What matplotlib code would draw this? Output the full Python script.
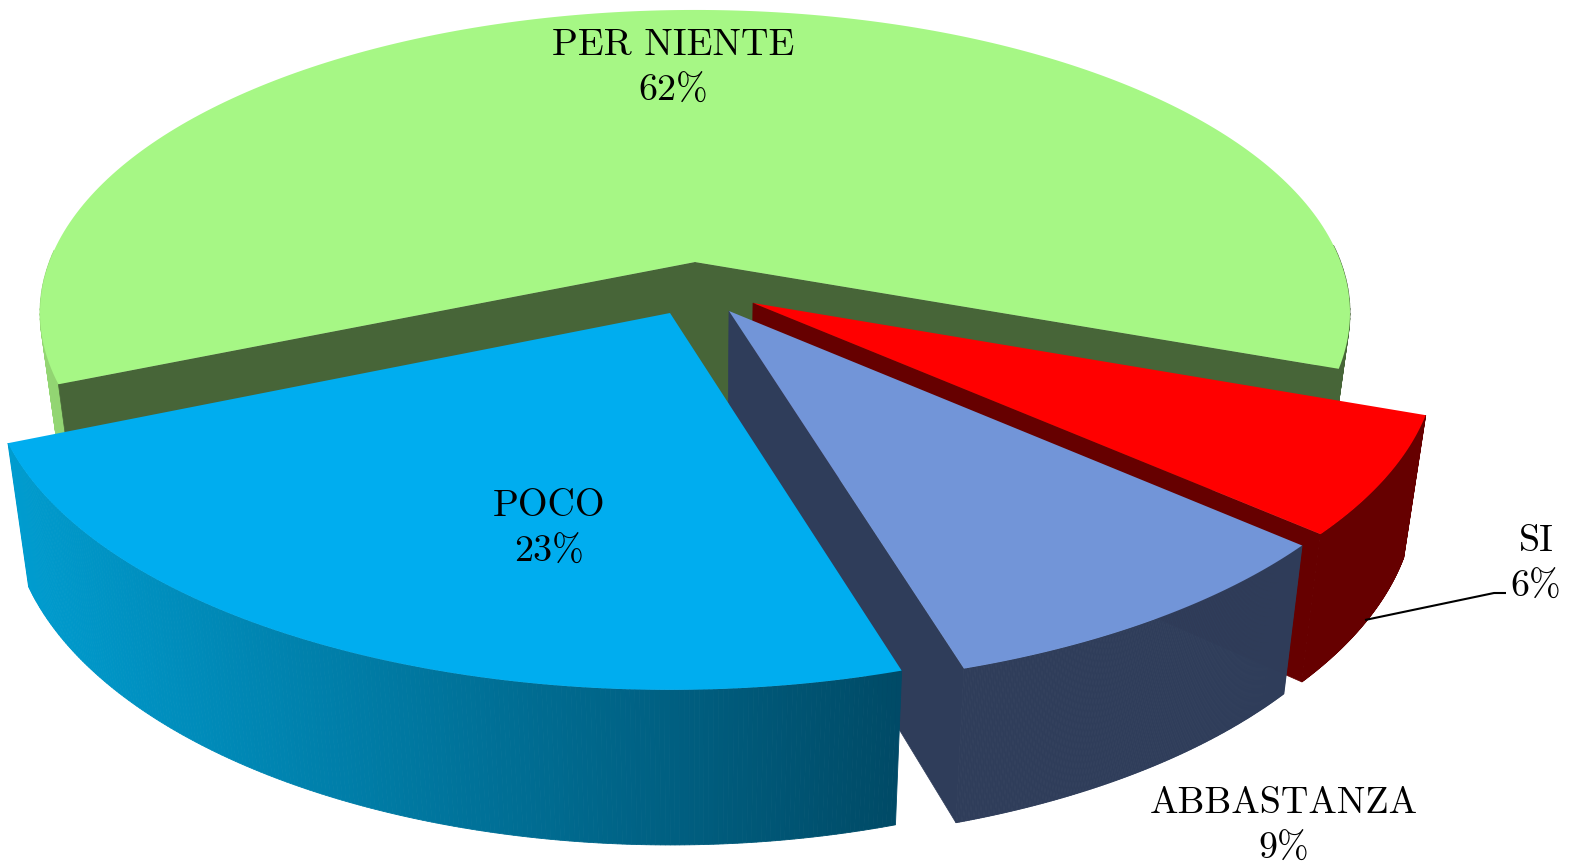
import numpy as np
import matplotlib
matplotlib.use('Agg')
import matplotlib.pyplot as plt
from matplotlib.colors import to_rgb

# dati
labels = ['PER NIENTE', 'POCO', 'ABBASTANZA', 'SI']
values = [61.9, 23.33, 8.76, 6.01]
percent_labels = ['62%', '23%', '9%', '6%']

top_colors = ['#a6f785', '#00adef', '#7295d8', '#ff0000']
side_left = ['#93d673', '#009ccf', '#2f3d5a', '#660000']
side_right = ['#476538', '#004a66', '#2f3d5a', '#660000']
wall_colors = ['#476538', '#004a66', '#2f3d5a', '#660000']

# posizione del vertice di ogni fetta (pixel) e scala prospettica
apex_x = [695, 670, 729, 753]
apex_y = [262, 313, 311, 303]
scale_x = [1.0, 1.04, 1.055, 1.045]
scale_y = [1.0, 1.065, 1.065, 1.05]
label_x = [673, 549, 1284, 1536]
label_y = [45, 506, 803, 541]

start_angle = -20.0
K = 0.168
A = 645.7
B = 294.4
VX = 695


def rim(x0, y0, ang, sx, sy):
    # prospettiva del cerchio
    a = np.radians(ang)
    w = 1 + K * np.sin(a)
    return x0 + sx * A * np.cos(a) / w, y0 - sy * B * np.sin(a) / w


def lower(x, y):
    # faccia inferiore del disco
    return VX + 0.97 * (x - VX), y + 135 + 0.047 * (y - 262)


fig = plt.figure(figsize=(15.70, 8.65), dpi=100)
ax = fig.add_axes([0, 0, 1, 1])
ax.set_xlim(0, 1570)
ax.set_ylim(865, 0)
ax.axis('off')

angles = start_angle + np.concatenate([[0], np.cumsum(values)]) * 3.6

# ordine di disegno: verde, rosso, lilla, blu
for i in [0, 3, 2, 1]:
    x0, y0 = apex_x[i], apex_y[i]
    t = np.linspace(angles[i], angles[i + 1], 240)
    xr, yr = rim(x0, y0, t, scale_x[i], scale_y[i])
    xb, yb = lower(xr, yr)
    x0b, y0b = lower(x0, y0)

    # fianco con sfumatura
    c0 = np.array(to_rgb(side_left[i]))
    c1 = np.array(to_rgb(side_right[i]))
    xmin, xmax = xr.min(), xr.max()
    if i == 1:
        xmax = xr[-1]
    for j in range(len(t) - 1):
        if np.sin(np.radians(t[j])) > 0.05 and i == 0:
            continue
        f = np.clip((xr[j] - xmin) / (xmax - xmin), 0, 1)
        col = c0 + (c1 - c0) * f
        ax.fill([xr[j], xr[j + 1], xb[j + 1], xb[j]], [yr[j], yr[j + 1], yb[j + 1], yb[j]],
                color=col, lw=0.6)

    # pareti interne
    if i == 0:
        for k in [0, -1]:
            ax.fill([x0, xr[k], xb[k], x0b], [y0, yr[k], yb[k], y0b], color=wall_colors[i], lw=0.5)
    if i in (2, 3):
        ax.fill([x0, xr[0], xb[0], x0b], [y0, yr[0], yb[0], y0b], color=wall_colors[i], lw=0.5)

    # faccia superiore
    ax.fill(np.r_[x0, xr], np.r_[y0, yr], color=top_colors[i], lw=0)

# linea di richiamo per SI
ax.plot([1365, 1494, 1506], [620, 593, 593], color='black', lw=1.5, solid_capstyle='butt')

for i in range(len(labels)):
    ax.text(label_x[i], label_y[i], labels[i], family='cmr10', fontsize=27.4,
            ha='center', va='center', color='black')
    ax.text(label_x[i], label_y[i] + 46, percent_labels[i], family='cmr10', fontsize=27.4,
            ha='center', va='center', color='black')

fig.savefig('out.png', dpi=100)
